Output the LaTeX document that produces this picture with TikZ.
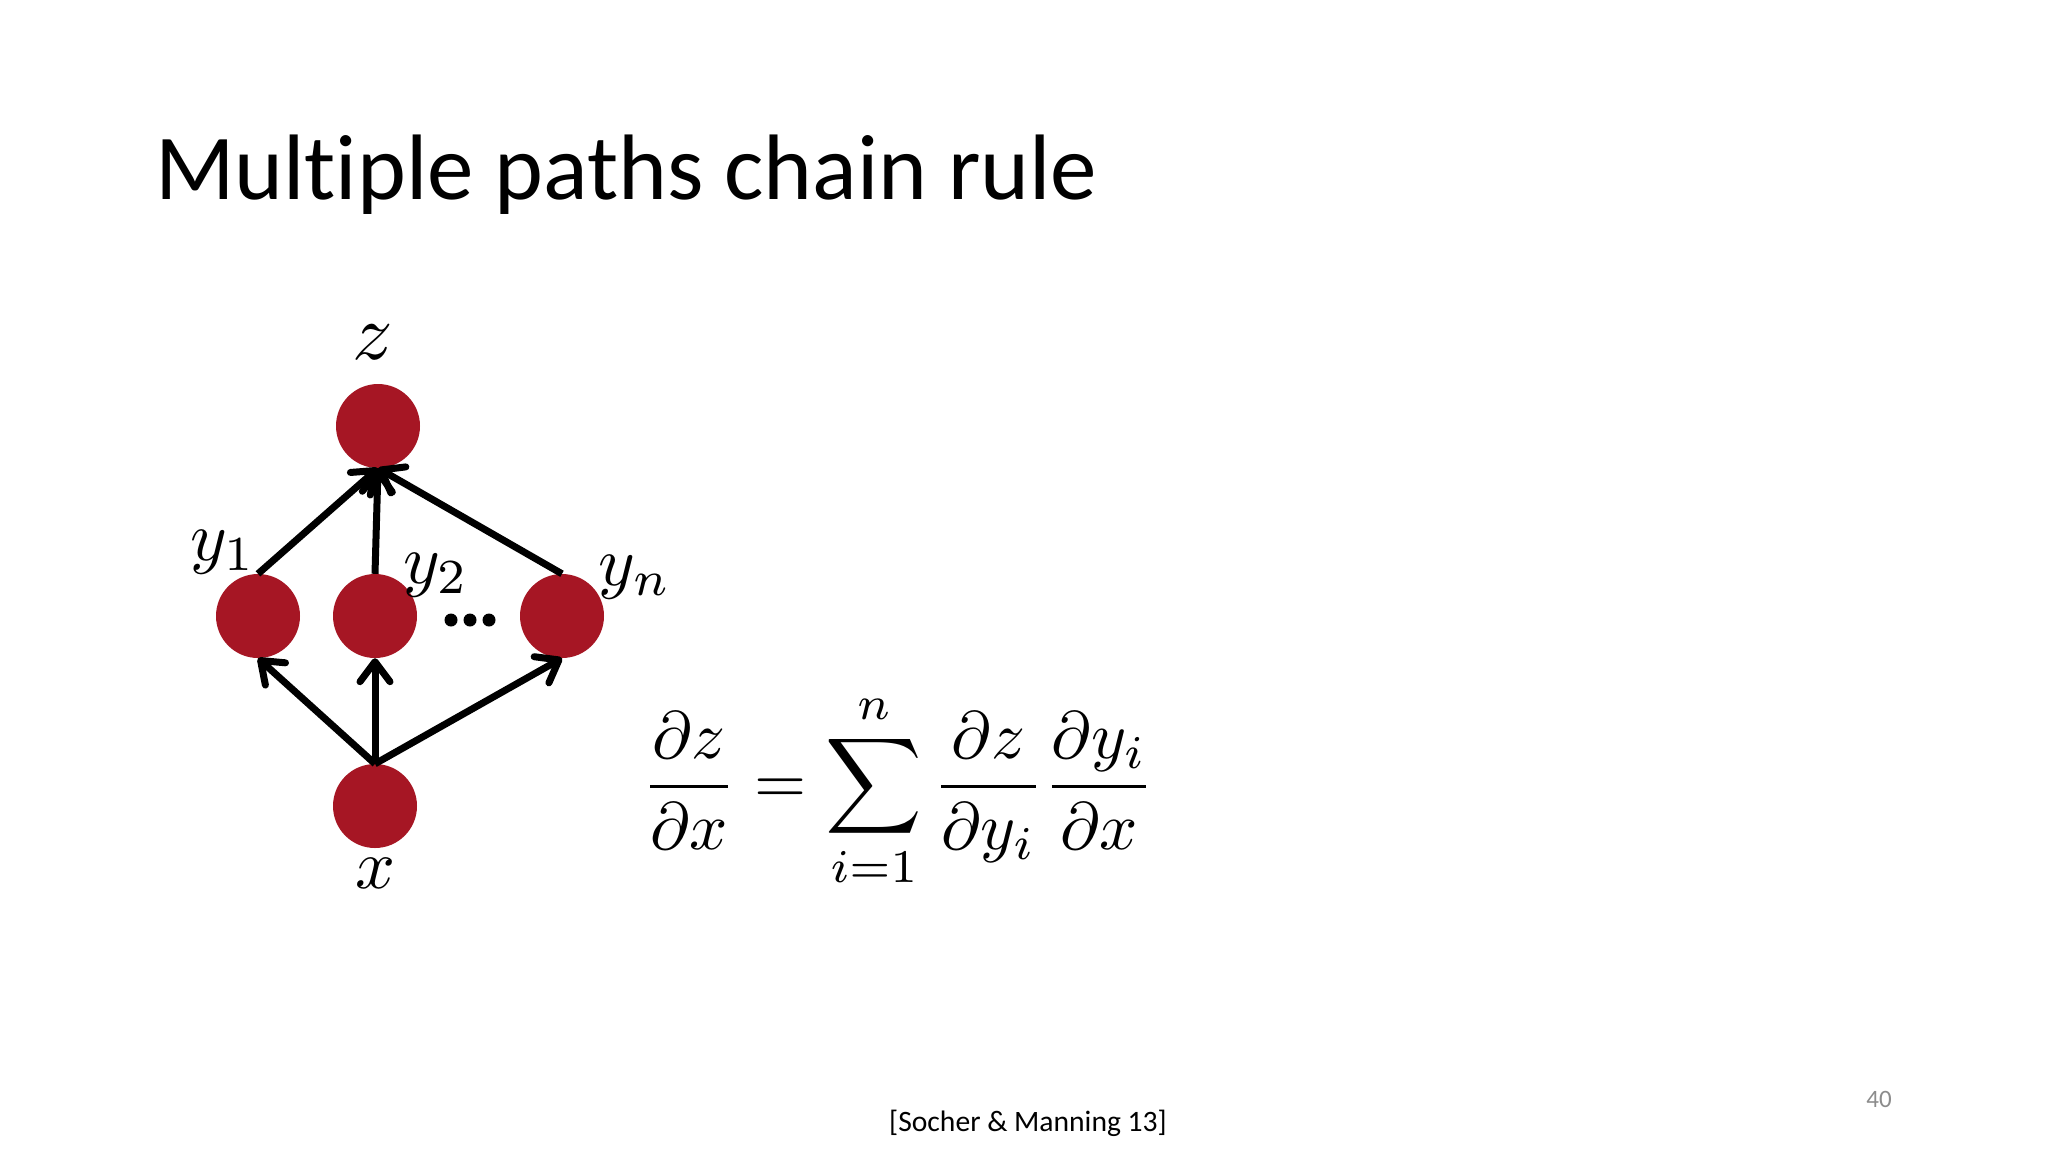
\documentclass[tikz,border=0pt]{standalone}
\usepackage{fontspec}
\setmainfont{Carlito}[Ligatures={NoCommon}]
\usetikzlibrary{arrows.meta}
\definecolor{nodered}{RGB}{166,22,36}
\definecolor{pagegray}{RGB}{140,140,140}
\tikzset{
  unit/.style={circle, fill=nodered, draw=none, inner sep=0pt, minimum size=84pt},
  mathlabel/.style={inner sep=0pt, scale=7},
  edge/.style={line width=7pt, -{Straight Barb[length=20pt,width=30pt,round]}},
  dotmark/.style={circle, fill=black, inner sep=0pt, minimum size=13pt},
}
\begin{document}
\begin{tikzpicture}[x=1pt,y=-1pt]
\useasboundingbox (0,0) rectangle (2048,1152);
\fill[white] (0,0) rectangle (2048,1152);
% title
\node[anchor=base west, inner sep=0pt, font=\fontsize{93}{100}\selectfont] (title) at (155,199) {Multiple paths chain rule};
% nodes
\node[unit] (z) at (378,426) {};
\node[unit] (y1) at (258,616) {};
\node[unit] (y2) at (375,616) {};
\node[unit] (yn) at (562,616) {};
\node[unit] (x) at (375,806) {};
% labels
\node[mathlabel, scale=8/7] (lz) at (373,342) {$z$};
\node[mathlabel] (ly1) at (223,552) {$y_1$};
\node[mathlabel] (ly2) at (436,575) {$y_2$};
\node[mathlabel] (lyn) at (635,577) {$y_n$};
\node[mathlabel] (lx) at (375,873) {$x$};
% dots
\node[dotmark] (d1) at (451,620) {};
\node[dotmark] (d2) at (470,620) {};
\node[dotmark] (d3) at (489,620) {};
% edges
\draw[edge] (y1.north) -- (z.south);
\draw[edge] (y2.north) -- (z.south);
\draw[edge] (yn.north) -- (z.south);
\draw[edge] (x.north) -- (y1.south);
\draw[edge] (x.north) -- (y2.south);
\draw[edge] (x.north) -- (yn.south);
% equation
\node[anchor=west, inner sep=0pt, scale=6.7] (eq) at (641,791)
  {$\displaystyle \frac{\partial z}{\partial x} = \sum_{i=1}^{n} \frac{\partial z}{\partial y_i}\frac{\partial y_i}{\partial x}$};
% footer
\node[anchor=base, inner sep=0pt, font=\fontsize{29.6}{32}\selectfont] (cite) at (1028,1131) {[Socher \& Manning 13]};
\node[anchor=base, inner sep=0pt, text=pagegray, font=\fontsize{25}{28}\selectfont] (page) at (1879,1107) {40};
\end{tikzpicture}
\end{document}
